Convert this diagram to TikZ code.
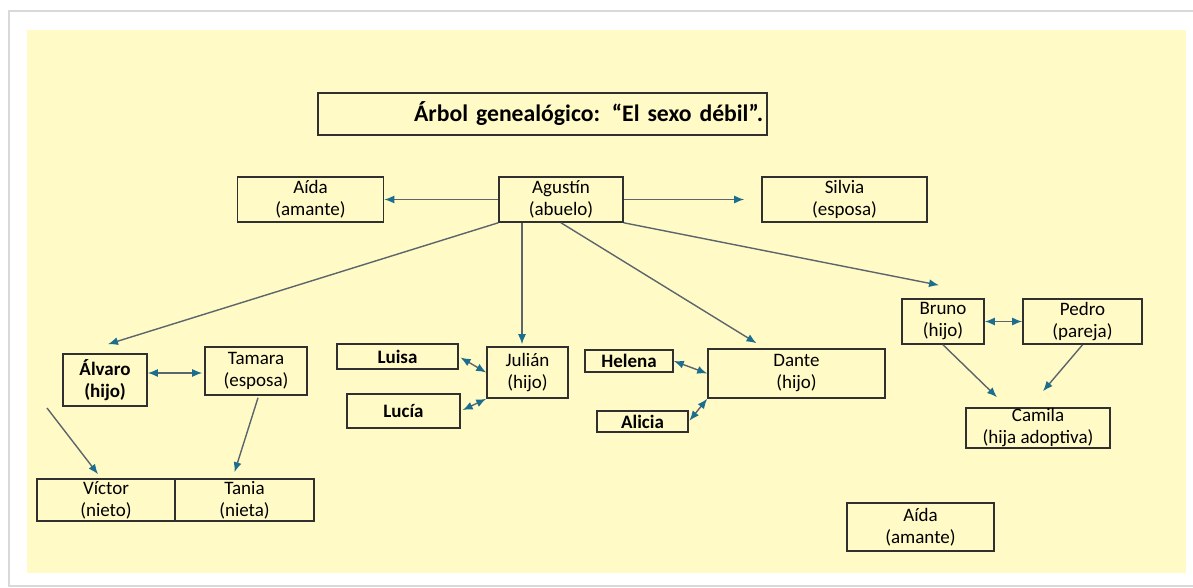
\documentclass[tikz,border=0pt]{standalone}
\usepackage{fontspec}
\setmainfont{Carlito}
\usetikzlibrary{calc}
\usetikzlibrary{arrows.meta}
\definecolor{fondo}{HTML}{FFFAC6}
\definecolor{flecha}{HTML}{1B6E8E}
\definecolor{linea}{HTML}{5B666C}
\definecolor{borde}{HTML}{303030}

\begin{document}
\begin{tikzpicture}[x=1pt,y=-1pt]
			\tikzstyle{caja}=[draw=borde, line width=1.6pt, inner sep=0pt, align=center, font=\fontsize{19}{22}\selectfont]
			\tikzstyle{negrita}=[font=\fontsize{19}{22}\selectfont\bfseries]
			\tikzstyle{rel}=[draw=linea, line width=1.4pt, >={Latex[length=10pt,width=8pt,color=flecha]}]

			\useasboundingbox (0,0) rectangle (1193,588);
			\filldraw[draw=black!15, line width=2pt, fill=white] (9,11) rectangle (1196,586);
			\fill[fondo] (27,30) rectangle (1186,573);

			% titulo
			\node[caja, minimum width=449pt, minimum height=42pt, text width=441pt, align=right, font=\fontsize{23.7}{27}\selectfont\bfseries] (titulo) at (542.5,114) {Árbol genealógico: “El sexo débil”.};

			% abuelos
			\node[caja, minimum width=146pt, minimum height=45pt] (aidaA) at (310.5,199.5) {Aída\\(amante)};
			\node[caja, minimum width=124pt, minimum height=45pt] (agustin) at (561,199.5) {Agustín\\(abuelo)};
			\node[caja, minimum width=165pt, minimum height=45pt] (silvia) at (844.5,199.5) {Silvia\\(esposa)};

			% hijos
			\node[caja, negrita, minimum width=84pt, minimum height=52pt] (alvaro) at (105,380) {Álvaro\\(hijo)};
			\node[caja, minimum width=102pt, minimum height=48pt] (tamara) at (256,371) {Tamara\\(esposa)};
			\node[caja, negrita, minimum width=121pt, minimum height=25pt] (luisa) at (397.5,356.5) {Luisa};
			\node[caja, negrita, minimum width=113pt, minimum height=34pt] (lucia) at (403.5,411) {Lucía};
			\node[caja, minimum width=81pt, minimum height=51pt] (julian) at (527.5,372.5) {Julián\\(hijo)};
			\node[caja, negrita, minimum width=88pt, minimum height=22pt] (helena) at (629,361) {Helena};
			\node[caja, negrita, minimum width=91pt, minimum height=21pt] (alicia) at (642.5,421.5) {Alicia};
			\node[caja, minimum width=177pt, minimum height=49pt] (dante) at (796.5,373.5) {Dante\\(hijo)};
			\node[caja, minimum width=82pt, minimum height=45pt] (bruno) at (943,321.5) {Bruno\\(hijo)};
			\node[caja, minimum width=119pt, minimum height=45pt] (pedro) at (1082.5,321.5) {Pedro\\(pareja)};
			\node[caja, minimum width=144pt, minimum height=40pt] (camila) at (1038,428) {Camila\\(hija adoptiva)};

			% nietos
			\node[caja, minimum width=138pt, minimum height=42pt] (victor) at (106,500) {Víctor\\(nieto)};
			\node[caja, minimum width=139pt, minimum height=42pt] (tania) at (244.5,500) {Tania\\(nieta)};
			\node[caja, minimum width=147pt, minimum height=48pt] (aidaB) at (920.5,527) {Aída\\(amante)};

			\coordinate (vini) at (47,408);

			% relaciones
			\draw[rel,->] (agustin.west) -- (aidaA.east);
			\draw[rel,->,shorten >=17pt] (agustin.east) -- (silvia.west);
			\draw[rel,->] (agustin.south west) -- ($(alvaro.north)+(3,-9)$);
			\draw[rel,->] ($(agustin.south)+(-39,0)$) -- ($(julian.north)+(-5.5,-2)$);
			\draw[rel,->] (agustin.south) -- ($(dante.north)+(-40,-5)$);
			\draw[rel,->] (agustin.south east) -- ($(bruno.north)+(-4,-13)$);
			\draw[rel,<->] ($(alvaro.east)+(0,-7)$) -- ($(tamara.west)+(-2,2)$);
			\draw[rel,->] ($(tamara.south)+(2,2)$) -- ($(tania.north)+(-10,-6)$);
			\draw[rel,->] (vini) -- ($(victor.north)+(-8,-4)$);
			\draw[rel,<->,shorten <=2pt] (luisa.east) -- (julian.west);
			\draw[rel,<->,shorten <=2pt] (lucia.east) -- (julian.south west);
			\draw[rel,<->] (helena.east) -- (dante.west);
			\draw[rel,<->,shorten <=1pt] (alicia.east) -- (dante.south west);
			\draw[rel,<->] (bruno.east) -- (pedro.west);
			\draw[rel,->] (bruno.south) -- ($(camila.north)+(-41,-10)$);
			\draw[rel,->] (pedro.south) -- ($(camila.north)+(5,-16)$);
\end{tikzpicture}
\end{document}
